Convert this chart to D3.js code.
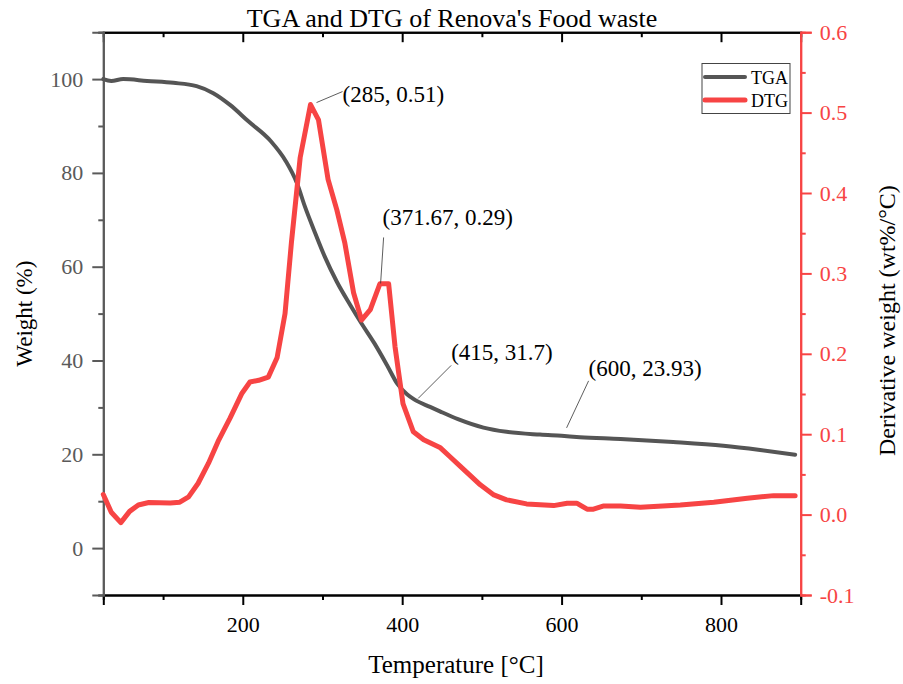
<!DOCTYPE html>
<html><head><meta charset="utf-8">
<script src="https://cdn.jsdelivr.net/npm/d3@7"></script>
<style>
body{margin:0;background:#fff;}
svg{display:block;font-family:"Liberation Serif","Times New Roman",serif;}
svg text{font-family:"Liberation Serif","Times New Roman",serif !important;}
</style></head>
<body><svg id="c" width="903" height="684"></svg>
<script>
const tgaTemp = [25,35,50,80,113,142,163,184,207,235,254,268,278,291,303,318,335,349,365,381,394,406,415,435,448,470,502,531,573,600,623,674,740,803,849,893];
const tgaWeight = [100,99.6,100,99.6,99.2,98.5,97,94.5,91,86.8,82.5,77.8,72.8,67.1,62.1,56.8,51.8,47.9,43.7,39,35,32.8,31.7,30.1,29.1,27.5,25.7,24.8,24.2,23.93,23.65,23.25,22.6,21.8,20.9,19.9];
const dtgTemp = [25,35,47,58,69,82,109,121,132,144,157,169,184,199,209,220,232,243,253,261,272,285,295,307,318,328,339,349,360,372,383,391,401,414,427,448,460,473,498,515,531,556,590,607,619,632,640,653,674,699,749,791,833,866,893];
const dtgValue = [0.025,0.003,-0.01,0.004,0.012,0.015,0.0145,0.0155,0.022,0.039,0.064,0.091,0.12,0.151,0.165,0.167,0.171,0.195,0.25,0.338,0.444,0.51,0.491,0.417,0.379,0.338,0.276,0.242,0.255,0.287,0.287,0.209,0.138,0.103,0.093,0.083,0.072,0.06,0.037,0.0245,0.0183,0.0133,0.0112,0.0142,0.0142,0.0067,0.0067,0.0108,0.0108,0.0092,0.012,0.0154,0.0204,0.0236,0.0236];
const xMajor = [200,400,600,800];
const xMinor = [100,300,500,700];
const yMajor = [0,20,40,60,80,100];
const yMinor = [-10,10,30,50,70,90,110];
const y2Major = [-0.1,0,0.1,0.2,0.3,0.4,0.5,0.6];
const y2Minor = [-0.05,0.05,0.15,0.25,0.35,0.45,0.55];
const annotations = [
  {t:285, v:0.51, axis:"r", label:"(285, 0.51)", p1:[6,-2], p2:[32,-13], tx:[32,-3]},
  {t:371.67, v:0.29, axis:"r", label:"(371.67, 0.29)", p1:[1,2], p2:[4,-44], tx:[3,-56]},
  {t:415, v:31.7, axis:"l", label:"(415, 31.7)", p1:[4,-1], p2:[37,-34], tx:[37,-39]},
  {t:600, v:23.93, axis:"l", label:"(600, 23.93)", p1:[5,-8], p2:[27,-55], tx:[27,-60]}
];

const W=903,H=684;
const m={l:103.3,r:800.7,t:32.2,b:595};
const svg=d3.select("#c");
const x=d3.scaleLinear().domain([25,900]).range([m.l,m.r]);
const yL=d3.scaleLinear().domain([-10,110]).range([m.b,m.t]);
const yR=d3.scaleLinear().domain([-0.1,0.6]).range([m.b,m.t]);
const red="#f74444", grey="#555555", axGrey="#5a5a5a";
const FS=22;
const SERIF="'Liberation Serif', 'Times New Roman', serif";

function styleAxis(g,color){
  g.attr("font-family",SERIF).attr("font-size",FS);
  g.select(".domain").attr("stroke",color).attr("stroke-width",2);
  g.selectAll(".tick line").attr("stroke",color).attr("stroke-width",2);
  g.selectAll(".tick text").attr("fill",color);
}
// bottom
let g=svg.append("g").attr("transform",`translate(0,${m.b})`)
  .call(d3.axisBottom(x).tickValues(xMajor).tickSize(10).tickPadding(11).tickFormat(d3.format("d")));
styleAxis(g,"#000");
g=svg.append("g").attr("transform",`translate(0,${m.b})`)
  .call(d3.axisBottom(x).tickValues(xMinor).tickSize(5).tickFormat(""));
styleAxis(g,"#000");
// top
g=svg.append("g").attr("transform",`translate(0,${m.t})`)
  .call(d3.axisBottom(x).tickValues(xMajor).tickSize(10).tickFormat(""));
styleAxis(g,"#000");
g=svg.append("g").attr("transform",`translate(0,${m.t})`)
  .call(d3.axisBottom(x).tickValues(xMinor).tickSize(5).tickFormat(""));
styleAxis(g,"#000");
// left
g=svg.append("g").attr("transform",`translate(${m.l},0)`)
  .call(d3.axisLeft(yL).tickValues(yMajor).tickSize(11).tickPadding(9).tickFormat(d3.format("d")));
styleAxis(g,axGrey);
g=svg.append("g").attr("transform",`translate(${m.l},0)`)
  .call(d3.axisLeft(yL).tickValues(yMinor).tickSize(5).tickFormat(""));
styleAxis(g,axGrey);
// right
g=svg.append("g").attr("transform",`translate(${m.r},0)`)
  .call(d3.axisRight(yR).tickValues(y2Major).tickSize(11).tickPadding(8).tickFormat(d3.format(".1f")));
styleAxis(g,red);
g.selectAll(".tick text").text(d=>d<0?"-"+d3.format(".1f")(-d):d3.format(".1f")(d));
g=svg.append("g").attr("transform",`translate(${m.r},0)`)
  .call(d3.axisRight(yR).tickValues(y2Minor).tickSize(5).tickFormat(""));
styleAxis(g,red);

// curves
const tga=tgaTemp.map((t,i)=>[t,tgaWeight[i]]);
const dtg=dtgTemp.map((t,i)=>[t,dtgValue[i]]);
svg.append("path").datum(tga).attr("fill","none").attr("stroke",grey).attr("stroke-width",4)
  .attr("stroke-linejoin","round").attr("stroke-linecap","round")
  .attr("d",d3.line().x(d=>x(d[0])).y(d=>yL(d[1])).curve(d3.curveMonotoneX));
svg.append("path").datum(dtg).attr("fill","none").attr("stroke",red).attr("stroke-width",5)
  .attr("stroke-linejoin","round").attr("stroke-linecap","round")
  .attr("d",d3.line().x(d=>x(d[0])).y(d=>yR(d[1])));

// annotations
annotations.forEach(a=>{
  const px=x(a.t), py=(a.axis==="r"?yR(a.v):yL(a.v));
  svg.append("line").attr("x1",px+a.p1[0]).attr("y1",py+a.p1[1]).attr("x2",px+a.p2[0]).attr("y2",py+a.p2[1])
    .attr("stroke","#333").attr("stroke-width",0.8);
  svg.append("text").attr("x",px+a.tx[0]).attr("y",py+a.tx[1]).attr("font-size",23).attr("fill","#000").text(a.label);
});

// legend
const lg=svg.append("g");
lg.append("rect").attr("x",702).attr("y",63.5).attr("width",88).attr("height",50).attr("fill","#fff").attr("stroke","#444").attr("stroke-width",1);
[["TGA",grey,4,77],["DTG",red,5,100]].forEach(([n,c,w,yy])=>{
  lg.append("line").attr("x1",705).attr("x2",745).attr("y1",yy).attr("y2",yy).attr("stroke",c).attr("stroke-width",w).attr("stroke-linecap","round");
  lg.append("text").attr("x",751).attr("y",yy+6.5).attr("font-size",18).text(n);
});

// titles
svg.append("text").attr("x",(m.l+m.r)/2).attr("y",27).attr("text-anchor","middle").attr("font-size",26).text("TGA and DTG of Renova's Food waste");
svg.append("text").attr("x",(m.l+m.r)/2+4).attr("y",673).attr("text-anchor","middle").attr("font-size",25).text("Temperature [°C]");
svg.append("text").attr("transform",`translate(32,${(m.t+m.b)/2}) rotate(-90)`).attr("text-anchor","middle").attr("font-size",23).text("Weight (%)");
svg.append("text").attr("transform",`translate(895,${(m.t+m.b)/2+7}) rotate(-90)`).attr("text-anchor","middle").attr("font-size",24).text("Derivative weight (wt%/°C)");
</script></body></html>
